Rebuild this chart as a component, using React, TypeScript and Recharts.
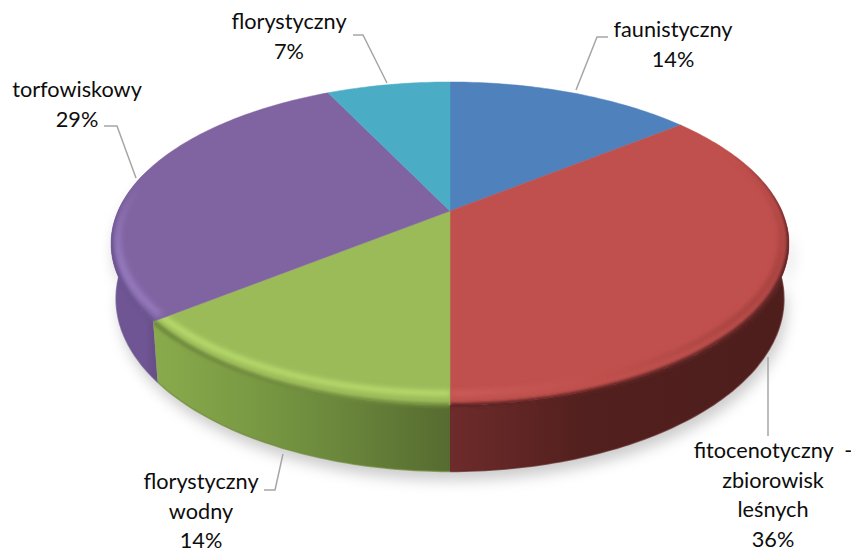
import { Cell, Pie, PieChart } from "recharts";

const categories = ["faunistyczny", "fitocenotyczny", "florystyczny wodny", "torfowiskowy", "florystyczny"];
const counts = [2, 5, 2, 4, 1];
const labelLines = [
  ["faunistyczny"],
  ["fitocenotyczny  -", "zbiorowisk", "leśnych"],
  ["florystyczny", "wodny"],
  ["torfowiskowy"],
  ["florystyczny"],
];
const topColors = ["#4f81bd", "#c0504d", "#9bbb59", "#8064a2", "#4bacc6"];
const data = categories.map((name, i) => ({ name, value: counts[i] }));

// label placement: centre x, first baseline, leader line
const labelLayout = [
  { x: 673, y: 37, line: "608,37 597,37 576,90" },
  { x: 773, y: 458, line: "768,357 768,436" },
  { x: 201, y: 489, line: "264,490 275,490 283,454" },
  { x: 77, y: 97, line: "104,126 117,126 136,178" },
  { x: 289, y: 29, line: "353,35 363,35 387,83" },
];

const sideStops = [
  [["0%", "#3f648f"], ["100%", "#3f648f"]],
  [["0%", "#6e2b2b"], ["40%", "#52201e"], ["100%", "#4d1e1c"]],
  [["0%", "#8aab4c"], ["50%", "#71903f"], ["100%", "#566b30"]],
  [["0%", "#6f5594"], ["100%", "#674f88"]],
  [["0%", "#3a8ea5"], ["100%", "#3a8ea5"]],
];
const rimStops = [
  [["0%", "#4f81bd"], ["100%", "#4f81bd"]],
  [["0%", "#cd5f5c"], ["50%", "#c0504d"], ["100%", "#a8433f"]],
  [["0%", "#b8dc6c"], ["100%", "#bde06f"]],
  [["0%", "#9479bd"], ["100%", "#9479bd"]],
  [["0%", "#4bacc6"], ["100%", "#4bacc6"]],
];
const edgeColors = ["#3f648f", "#5c2422", "#6f8a3c", "#6a5290", "#3a8ea5"];

const ASPECT = 2.142;
const TILT = 0.2013;
const DEPTH = 53;
const BOTTOM_SHRINK = 0.985;
const RIM_HI = 25;
const RIM_LO = -190;
const toRad = Math.PI / 180;

const project = (props: any, t: number, frac = 1, depth = 0) => {
  const { cx, cy, outerRadius } = props;
  const s = 1 / (1 + TILT * frac * Math.sin(t * toRad));
  const shrink = depth ? BOTTOM_SHRINK : 1;
  const x = cx + outerRadius * ASPECT * frac * Math.cos(t * toRad) * s * shrink;
  const y = cy - outerRadius * frac * Math.sin(t * toRad) * s + depth * s;
  return [x, y];
};

const arc = (props: any, from: number, to: number, frac = 1, depth = 0) => {
  const pts: number[][] = [];
  const n = Math.max(1, Math.ceil(Math.abs(from - to)));
  for (let i = 0; i <= n; i++) pts.push(project(props, from + ((to - from) * i) / n, frac, depth));
  return pts;
};

const toPath = (pts: number[][]) => pts.map((p, i) => `${i ? "L" : "M"}${p[0].toFixed(1)} ${p[1].toFixed(1)}`).join(" ");

const sideRange = (props: any, hi: number, lo: number) => {
  const from = Math.min(props.startAngle, hi);
  const to = Math.max(props.endAngle, lo);
  return from > to ? [from, to] : null;
};

// 0 at the back ends of the rim, 1 along the front, so bands thin out instead of stopping
const taper = (t: number) => {
  const a = Math.min(1, Math.max(0, (RIM_HI - t) / 45));
  const b = Math.min(1, Math.max(0, (t - RIM_LO) / 30));
  return a * b;
};

// band along the rim between outer fraction and outer - width, lifted in y at the front
const band = (props: any, from: number, to: number, outer: number, width: number, lift: number) => {
  const n = Math.max(1, Math.ceil(Math.abs(from - to)));
  const a: number[][] = [];
  const b: number[][] = [];
  for (let i = 0; i <= n; i++) {
    const t = from + ((to - from) * i) / n;
    const w = width * taper(t);
    const dy = lift * Math.max(0, -Math.sin(t * toRad));
    const p = project(props, t, outer - (width - w) / 2);
    const q = project(props, t, outer - (width + w) / 2);
    a.push([p[0], p[1] - dy]);
    b.unshift([q[0], q[1] - dy]);
  }
  return `${toPath(a)} ${toPath(b).replace("M", "L")} Z`;
};

const sidePath = (props: any) => {
  const range = sideRange(props, -5, -195);
  if (!range) return null;
  const top = arc(props, range[0], range[1]);
  const bottom = arc(props, range[1], range[0], 1, DEPTH);
  return `${toPath(top)} ${toPath(bottom).replace("M", "L")} Z`;
};

const ShadowShape = (props: any) => {
  const d = sidePath(props);
  if (!d) return <g />;
  return <path d={d} fill="#000" fillOpacity={0.2} filter="url(#pieShadow)" transform="translate(3 9)" />;
};

const SideShape = (props: any) => {
  const i = props.index;
  const range = sideRange(props, -5, -195);
  const d = sidePath(props);
  if (!d || !range) return <g />;
  return (
    <g>
      <defs>
        <linearGradient id={`side${i}`} gradientUnits="userSpaceOnUse" x1={project(props, range[1])[0]} x2={project(props, range[0])[0]} y1="0" y2="0">
          {sideStops[i].map(([o, c]) => (
            <stop key={o} offset={o} stopColor={c} />
          ))}
        </linearGradient>
      </defs>
      <path d={d} fill={`url(#side${i})`} />
      <path d={toPath(arc(props, range[0], range[1], 1, DEPTH))} fill="none" stroke={edgeColors[i]} strokeOpacity={0.7} strokeWidth={1.5} />
    </g>
  );
};

const TopShape = (props: any) => {
  const i = props.index;
  const { cx, cy, startAngle, endAngle, fill } = props;
  const face = `M${cx} ${cy} ${toPath(arc(props, startAngle, endAngle)).replace("M", "L")} Z`;
  const range = sideRange(props, RIM_HI, RIM_LO);
  const side = sidePath(props);
  return (
    <g>
      <path d={face} fill={fill} stroke={fill} strokeWidth={0.5} />
      {range && (
        <g>
          <defs>
            <clipPath id={`face${i}`}>
              <path d={face} />
            </clipPath>
            <clipPath id={`body${i}`}>
              <path d={face} />
              {side && <path d={side} />}
            </clipPath>
            <linearGradient id={`rim${i}`} gradientUnits="userSpaceOnUse" x1={project(props, range[1])[0]} x2={project(props, range[0])[0]} y1="0" y2="0">
              {rimStops[i].map(([o, c]) => (
                <stop key={o} offset={o} stopColor={c} />
              ))}
            </linearGradient>
          </defs>
          <g clipPath={`url(#face${i})`}>
            <path d={band(props, range[0], range[1], 0.99, 0.02, 7)} fill={`url(#rim${i})`} filter="url(#rimBlur)" />
          </g>
          <g clipPath={`url(#body${i})`}>
            <path d={band(props, range[0], range[1], 1.008, 0.016, 0)} fill={edgeColors[i]} filter="url(#edgeBlur)" />
          </g>
        </g>
      )}
    </g>
  );
};

const renderLabel = (props: any) => {
  const i = props.index;
  const place = labelLayout[i];
  const lines = [...labelLines[i], `${Math.round(props.percent * 100)}%`];
  return (
    <g key={i}>
      <polyline points={place.line} fill="none" stroke="#a6a6a6" strokeWidth={1.5} />
      <text textAnchor="middle" fontFamily="Lato, sans-serif" fontSize={21.7} fill="#0d0d0d">
        {lines.map((l, n) => (
          <tspan key={n} x={place.x} y={place.y + n * 29.5} style={{ whiteSpace: "pre" }}>
            {l}
          </tspan>
        ))}
      </text>
    </g>
  );
};

const pieProps = {
  data,
  dataKey: "value",
  nameKey: "name",
  cx: 450,
  cy: 211,
  outerRadius: 155,
  startAngle: 90,
  endAngle: -270,
  stroke: "none",
  isAnimationActive: false,
  labelLine: false,
  rootTabIndex: -1,
};

export default function App() {
  return (
    <div style={{ position: "absolute", left: 0, top: 0, width: 851, height: 549, background: "#fff" }}>
      <PieChart width={851} height={549} margin={{ top: 0, right: 0, bottom: 0, left: 0 }}>
        <defs>
          <filter id="pieShadow" x="0" y="0" width="851" height="549" filterUnits="userSpaceOnUse">
            <feGaussianBlur stdDeviation="7" />
          </filter>
          <filter id="rimBlur" x="0" y="0" width="851" height="549" filterUnits="userSpaceOnUse">
            <feGaussianBlur stdDeviation="2.5" />
          </filter>
          <filter id="edgeBlur" x="0" y="0" width="851" height="549" filterUnits="userSpaceOnUse">
            <feGaussianBlur stdDeviation="1.8" />
          </filter>
        </defs>
        <Pie {...pieProps} shape={ShadowShape} />
        <Pie {...pieProps} shape={SideShape} />
        <Pie {...pieProps} shape={TopShape} label={renderLabel}>
          {data.map((d, i) => (
            <Cell key={d.name} fill={topColors[i]} />
          ))}
        </Pie>
      </PieChart>
    </div>
  );
}
